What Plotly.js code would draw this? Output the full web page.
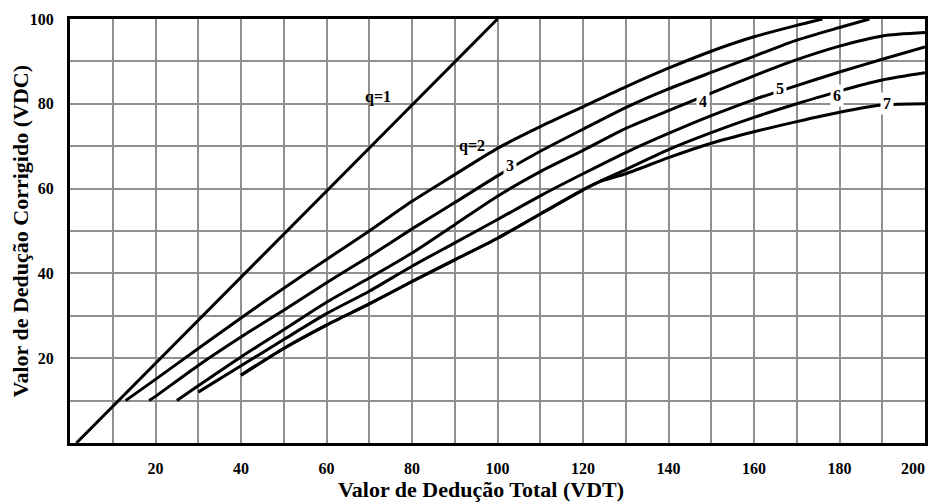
<!DOCTYPE html>
<html>
<head>
<meta charset="utf-8">
<script src="https://cdn.plot.ly/plotly-3.0.1.min.js"></script>
<style>html,body{margin:0;padding:0;background:#fff;}#chart{width:930px;height:502px;}</style>
</head>
<body>
<div id="chart"></div>
<script>
// Curve data (VDT -> VDC)
const q1x = [1.5, 100];
const q1y = [0, 100];
const q2x = [13, 20, 30, 40, 50, 60, 70, 80, 90, 100, 110, 120, 130, 140, 150, 160, 170, 176];
const q2y = [10, 15, 22.3, 29.5, 36.5, 43.3, 50, 57, 63.3, 69.5, 74.6, 79.3, 84, 88.4, 92.4, 95.8, 98.5, 100];
const q3x = [18.5, 20, 30, 40, 50, 60, 70, 80, 90, 100, 110, 120, 130, 140, 150, 160, 170, 180, 187];
const q3y = [10, 11, 18.3, 25, 31.3, 37.8, 44, 50.5, 56.7, 63, 68.8, 74, 79.1, 83.5, 87.4, 91.2, 95, 98, 100];
const q4x = [25, 30, 40, 50, 60, 70, 80, 90, 100, 110, 120, 130, 140, 150, 160, 170, 180, 190, 200];
const q4y = [10, 13.5, 20.3, 26.7, 33.2, 38.9, 44.8, 51.5, 58.2, 64, 69, 74.2, 78.4, 82.5, 86.6, 90.4, 93.6, 96, 96.8];
const q5x = [30, 40, 50, 60, 70, 80, 90, 100, 110, 120, 130, 140, 150, 160, 170, 180, 190, 200];
const q5y = [12, 18.2, 24.4, 30.5, 35.8, 41.7, 47.2, 52.7, 58.3, 63.5, 68.5, 73, 77.2, 81, 84.3, 87.5, 90.5, 93.4];
const q6x = [40, 50, 60, 70, 80, 90, 100, 110, 120, 124, 130, 140, 150, 160, 170, 180, 190, 200];
const q6y = [16, 22.3, 27.8, 32.8, 38.1, 43.2, 48.3, 54, 59.7, 61.7, 64.5, 69.2, 73.2, 76.8, 80, 83, 85.6, 87.3];
const q7x = [40, 50, 60, 70, 80, 90, 100, 110, 120, 124, 130, 140, 150, 160, 170, 180, 190, 200];
const q7y = [16, 22.3, 27.8, 32.8, 38.1, 43.2, 48.3, 54, 59.7, 61.7, 63.5, 67.3, 70.7, 73.4, 75.8, 78, 79.7, 80];

// Curve labels
const labelText = ['q=1', 'q=2', '3', '4', '5', '6', '7'];
const labelX = [72, 94, 103, 148, 166, 179.5, 191];
const labelY = [81.5, 70, 65.5, 80.5, 83.5, 82, 80];

// Axis ticks
const xTicks = [20, 40, 60, 80, 100, 120, 140, 160, 180, 200];
const yTicks = [20, 40, 60, 80, 100];
const xTitle = 'Valor de Dedução Total (VDT)';
const yTitle = 'Valor de Dedução Corrigido (VDC)';

const series = [[q1x, q1y], [q2x, q2y], [q3x, q3y], [q4x, q4y], [q5x, q5y], [q6x, q6y], [q7x, q7y]];
const traces = series.map(([x, y]) => ({
  x: x, y: y, type: 'scatter', mode: 'lines',
  line: {color: '#000', width: 3, shape: 'spline', smoothing: 0.7},
  hoverinfo: 'skip'
}));

const FONT = 'Liberation Serif, Times New Roman, serif';
const annotations = labelText.map((t, i) => ({
  x: labelX[i], y: labelY[i], xref: 'x', yref: 'y', text: '<b>' + t + '</b>',
  showarrow: false, font: {family: FONT, size: 16, color: '#000'},
  bgcolor: i >= 2 ? '#fff' : 'rgba(0,0,0,0)', borderpad: 2
}));
annotations.push({
  xref: 'paper', yref: 'paper', x: 0.481, y: -0.11, yanchor: 'middle', xanchor: 'center',
  text: '<b>' + xTitle + '</b>', showarrow: false, font: {family: FONT, size: 22, color: '#000'}
});
annotations.push({
  xref: 'paper', yref: 'paper', x: -0.058, y: 0.50, yanchor: 'middle', xanchor: 'center', textangle: -90,
  text: '<b>' + yTitle + '</b>', showarrow: false, font: {family: FONT, size: 22, color: '#000'}
});

const gridColor = '#909090';
const xText = xTicks.map(v => v === 200 ? '<b>200</b>&nbsp;&nbsp;&nbsp;&nbsp;&nbsp;&nbsp;' : '<b>' + v + '</b>');
const layout = {
  width: 930, height: 502,
  margin: {l: 70, r: 5, t: 19, b: 59},
  paper_bgcolor: '#fff', plot_bgcolor: '#fff',
  showlegend: false,
  font: {family: FONT, color: '#000'},
  xaxis: {
    range: [0, 200], tickvals: xTicks, ticktext: xText, ticklabeloverflow: 'allow',
    showgrid: true, gridcolor: gridColor, gridwidth: 2,
    minor: {dtick: 10, tick0: 0, showgrid: true, gridcolor: gridColor, gridwidth: 2},
    zeroline: false, showline: true, linecolor: '#000', linewidth: 3, mirror: true,
    ticks: '', ticklabelstandoff: 9,
    tickfont: {family: FONT, size: 16, color: '#000'}
  },
  yaxis: {
    range: [0, 100], tickvals: yTicks, ticktext: yTicks.map(v => '<b>' + v + '</b>'),
    showgrid: true, gridcolor: gridColor, gridwidth: 2,
    minor: {dtick: 10, tick0: 0, showgrid: true, gridcolor: gridColor, gridwidth: 2},
    zeroline: false, showline: true, linecolor: '#000', linewidth: 3, mirror: true,
    ticks: '', ticklabelstandoff: 10,
    tickfont: {family: FONT, size: 16, color: '#000'}
  },
  annotations: annotations
};

Plotly.newPlot('chart', traces, layout, {displayModeBar: false, staticPlot: true});
</script>
</body>
</html>
